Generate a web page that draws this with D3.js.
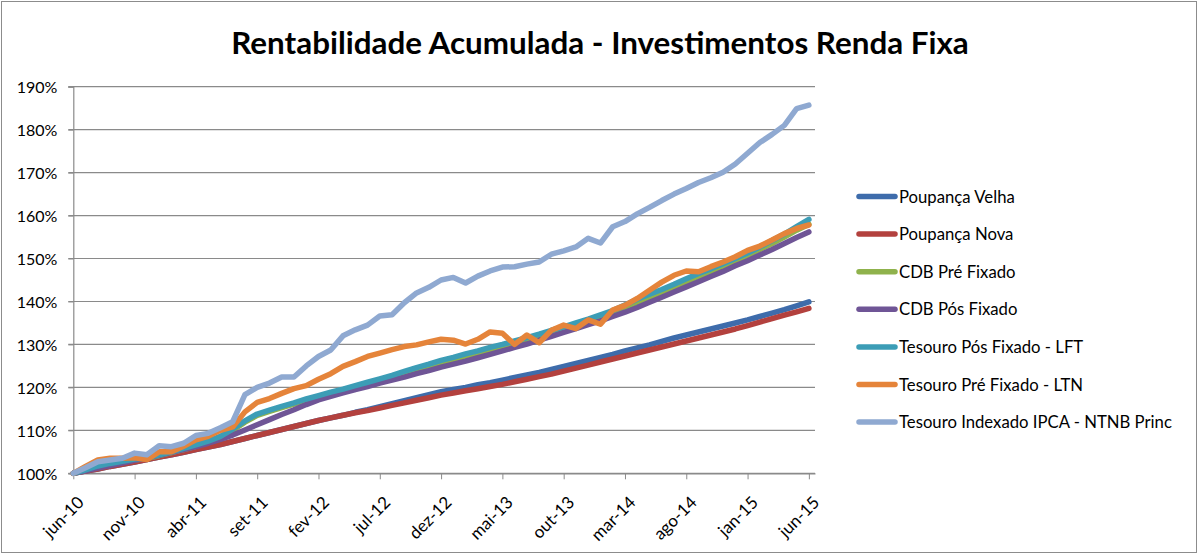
<!DOCTYPE html>
<html>
<head>
<meta charset="utf-8">
<script src="https://cdn.jsdelivr.net/npm/d3@7"></script>
<style>
  body { margin: 0; background: #fff; }
  svg { display: block; font-family: Lato, "Open Sans", sans-serif; }
</style>
</head>
<body>
<div id="container"></div>
<script>
/* DATA */
const months = [
  "jun-10","jul-10","ago-10","set-10","out-10","nov-10","dez-10","jan-11","fev-11","mar-11",
  "abr-11","mai-11","jun-11","jul-11","ago-11","set-11","out-11","nov-11","dez-11","jan-12",
  "fev-12","mar-12","abr-12","mai-12","jun-12","jul-12","ago-12","set-12","out-12","nov-12",
  "dez-12","jan-13","fev-13","mar-13","abr-13","mai-13","jun-13","jul-13","ago-13","set-13",
  "out-13","nov-13","dez-13","jan-14","fev-14","mar-14","abr-14","mai-14","jun-14","jul-14",
  "ago-14","set-14","out-14","nov-14","dez-14","jan-15","fev-15","mar-15","abr-15","mai-15",
  "jun-15"
];
const tickLabels = ["jun-10","nov-10","abr-11","set-11","fev-12","jul-12","dez-12","mai-13","out-13","mar-14","ago-14","jan-15","jun-15"];
const yTicks = [100, 110, 120, 130, 140, 150, 160, 170, 180, 190];

const seriesNames = ["Poupança Velha","Poupança Nova","CDB Pré Fixado","CDB Pós Fixado",
  "Tesouro Pós Fixado - LFT","Tesouro Pré Fixado - LTN","Tesouro Indexado IPCA - NTNB Princ"];
const seriesColors = ["#3e6cab","#b3413e","#8fb24c","#6f5596","#3c9db6","#e5843a","#8fa9d1"];

const poupancaVelha = [100,100.5,101.0,101.6,102.1,102.6,103.2,103.8,104.3,104.9,
  105.5,106.1,106.7,107.4,108.1,108.8,109.5,110.2,110.9,111.6,
  112.3,112.9,113.5,114.2,114.8,115.5,116.2,116.9,117.6,118.3,
  119.0,119.5,120.0,120.6,121.1,121.7,122.3,122.9,123.5,124.2,
  124.9,125.6,126.3,127.0,127.7,128.5,129.2,129.9,130.7,131.5,
  132.2,132.9,133.6,134.3,135.0,135.7,136.5,137.3,138.1,139.0,
  139.9];
const poupancaNova = [100,100.5,101.0,101.6,102.1,102.6,103.2,103.8,104.3,104.9,
  105.5,106.1,106.7,107.4,108.1,108.8,109.5,110.2,110.9,111.6,
  112.3,112.9,113.5,114.1,114.6,115.2,115.8,116.4,117.0,117.6,
  118.2,118.7,119.2,119.7,120.2,120.7,121.3,121.9,122.5,123.1,
  123.8,124.5,125.2,125.9,126.6,127.3,128.0,128.7,129.4,130.1,
  130.8,131.5,132.2,132.9,133.6,134.4,135.2,136.0,136.8,137.6,
  138.4];
const cdbPre = [100,100.7,101.5,102.1,102.6,103.1,103.5,104.1,104.8,105.5,
  106.3,107.2,108.4,110.0,111.9,113.5,114.4,115.3,116.1,117.0,
  117.8,118.6,119.3,120.1,120.9,121.7,122.4,123.2,124.0,124.8,
  125.6,126.3,127.1,127.8,128.6,129.4,130.2,131.0,131.9,132.8,
  133.7,134.6,135.5,136.5,137.5,138.6,139.8,141.0,142.2,143.4,
  144.6,145.8,146.9,148.1,149.4,150.7,152.1,153.5,155.0,156.6,
  158.0];
const cdbPos = [100,100.6,101.2,101.8,102.4,103.0,103.6,104.2,104.9,105.5,
  106.2,107.0,107.9,108.9,110.1,111.3,112.5,113.7,114.8,116.0,
  117.1,117.9,118.7,119.5,120.2,121.0,121.7,122.4,123.2,123.9,
  124.7,125.4,126.1,126.9,127.7,128.5,129.3,130.1,131.0,131.9,
  132.8,133.7,134.6,135.5,136.5,137.5,138.6,139.8,141.0,142.2,
  143.4,144.6,145.8,147.0,148.3,149.5,150.8,152.1,153.5,154.9,
  156.2];
const tesouroLFT = [100,100.8,101.7,102.3,102.8,103.3,103.6,104.3,105.0,105.8,
  106.6,107.5,108.6,110.3,112.2,113.8,114.7,115.6,116.4,117.3,
  118.1,118.9,119.6,120.4,121.2,122.0,122.8,123.7,124.6,125.4,
  126.3,127.0,127.8,128.5,129.3,130.0,130.8,131.6,132.4,133.3,
  134.1,135.0,135.9,136.9,137.9,139.2,140.5,141.7,142.8,144.0,
  145.3,146.5,147.6,148.8,150.0,151.3,152.7,154.2,155.7,157.4,
  159.1];
const tesouroLTN = [100,101.6,103.1,103.5,103.5,103.6,103.2,105.0,105.0,106.3,
  107.8,108.6,110.0,110.8,114.3,116.5,117.4,118.6,119.7,120.4,
  121.9,123.2,124.9,126.0,127.2,128.0,128.8,129.5,129.9,130.6,
  131.2,131.0,130.1,131.2,132.9,132.6,130.0,132.2,130.4,133.3,
  134.5,133.7,135.7,134.7,138.0,139.1,140.7,142.6,144.5,146.1,
  147.1,146.9,148.1,149.2,150.4,151.9,152.9,154.3,155.8,157.0,
  157.8];
const tesouroNTNB = [100,101.3,102.7,103.1,103.5,104.7,104.3,106.4,106.2,107.0,
  108.8,109.3,110.6,112.0,118.3,120.0,121.0,122.4,122.4,125.0,
  127.2,128.7,132.0,133.4,134.5,136.6,136.9,139.7,142.0,143.3,
  145.0,145.6,144.3,145.9,147.1,148.0,148.1,148.7,149.2,151.0,
  151.8,152.7,154.7,153.6,157.4,158.6,160.4,161.9,163.5,165.0,
  166.3,167.7,168.8,170.1,172.0,174.5,177.0,178.9,181.0,184.9,
  185.7];

const seriesValues = [poupancaVelha, poupancaNova, cdbPre, cdbPos, tesouroLFT, tesouroLTN, tesouroNTNB];

/* LAYOUT */
const width = 1200, height = 555;
const plot = { left: 73.3, right: 815, top: 86.7, bottom: 473.3 };

const svg = d3.select("#container").append("svg")
  .attr("width", width)
  .attr("height", height);

svg.append("rect")
  .attr("x", 1.5).attr("y", 1.5)
  .attr("width", 1195).attr("height", 551)
  .attr("fill", "#fff")
  .attr("stroke", "#8c8c8c");

/* SCALES */
const xScale = d3.scaleLinear()
  .domain([0, 60.5])
  .range([plot.left, plot.right]);

const yScale = d3.scaleLinear()
  .domain([100, 190])
  .range([plot.bottom, plot.top]);

// fit a text element to a given pixel width
function fitText(sel, target) {
  const w = sel.node().getComputedTextLength();
  const fs = parseFloat(sel.style("font-size"));
  const size = fs * target / w;
  sel.style("font-size", size + "px");
  return size;
}

/* TITLE */
const title = svg.append("text")
  .attr("x", 600)
  .attr("y", 54)
  .attr("text-anchor", "middle")
  .style("font-weight", "bold")
  .style("font-size", "28px")
  .attr("fill", "#000")
  .text("Rentabilidade Acumulada - Investimentos Renda Fixa");
fitText(title, 738);

/* GRIDLINES */
svg.append("g")
  .selectAll("line")
  .data(yTicks)
  .join("line")
  .attr("x1", plot.left - 5)
  .attr("x2", plot.right)
  .attr("y1", d => yScale(d))
  .attr("y2", d => yScale(d))
  .attr("stroke", "#8a8a8a")
  .attr("stroke-width", 1.2);

/* AXES */
const yAxis = d3.axisLeft(yScale)
  .tickValues(yTicks)
  .tickSize(5)
  .tickPadding(11)
  .tickFormat(d => d + "%");

const gy = svg.append("g")
  .attr("transform", `translate(${plot.left},0)`)
  .call(yAxis);
gy.select(".domain").attr("stroke", "#8a8a8a").attr("stroke-width", 1.2);
gy.selectAll(".tick line").attr("stroke", "#8a8a8a");
gy.selectAll(".tick text")
  .attr("fill", "#000")
  .style("font-size", "16px")
  .style("font-family", "Lato, sans-serif")
  .attr("dy", "0.38em");

const tickIdx = tickLabels.map(t => months.indexOf(t));
const xAxis = d3.axisBottom(xScale)
  .tickValues(tickIdx)
  .tickSize(6)
  .tickSizeOuter(0)
  .tickFormat(i => months[i]);

const gx = svg.append("g")
  .attr("transform", `translate(0,${plot.bottom})`)
  .call(xAxis);
gx.select(".domain").attr("stroke", "#8a8a8a").attr("stroke-width", 1.2);
gx.selectAll(".tick line").attr("stroke", "#8a8a8a");
gx.selectAll(".tick text")
  .attr("fill", "#000")
  .style("font-size", "17px")
  .style("font-family", "Lato, sans-serif")
  .attr("text-anchor", "end")
  .attr("x", 0)
  .attr("y", 0)
  .attr("dy", "0.35em")
  .attr("transform", "translate(7,26) rotate(-45)");

/* LINES */
const line = d3.line()
  .x((d, i) => xScale(i))
  .y(d => yScale(d));

svg.append("g")
  .selectAll("path")
  .data(seriesValues)
  .join("path")
  .attr("d", d => line(d))
  .attr("fill", "none")
  .attr("stroke", (d, i) => seriesColors[i])
  .attr("stroke-width", 5.5)
  .attr("stroke-linejoin", "round")
  .attr("stroke-linecap", "round");

/* LEGEND */
const legend = svg.append("g")
  .attr("transform", "translate(857,196.5)");

const rows = legend.selectAll("g")
  .data(seriesNames)
  .join("g")
  .attr("transform", (d, i) => `translate(0,${i * 37.6})`);

rows.append("line")
  .attr("x1", 2).attr("x2", 38)
  .attr("stroke", (d, i) => seriesColors[i])
  .attr("stroke-width", 5.5)
  .attr("stroke-linecap", "round");

const labels = rows.append("text")
  .attr("x", 42)
  .attr("y", 6)
  .attr("fill", "#000")
  .style("font-size", "16px")
  .text(d => d);

const longest = labels.filter((d, i) => i === seriesNames.length - 1);
const legendSize = fitText(longest, 273);
labels.style("font-size", legendSize + "px");
</script>
</body>
</html>
